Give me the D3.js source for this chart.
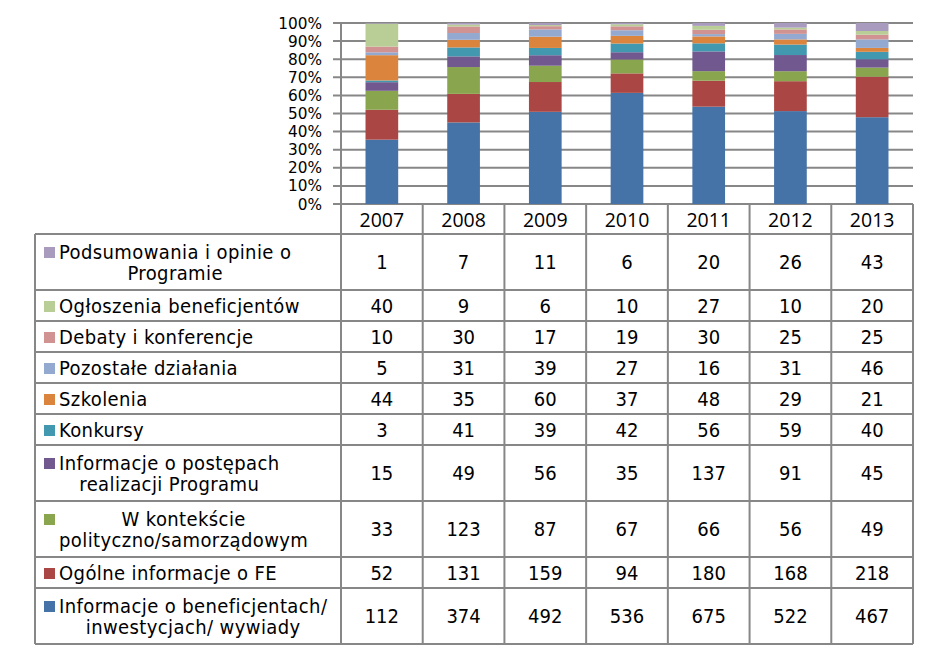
<!DOCTYPE html>
<html><head><meta charset="utf-8">
<script src="https://cdn.jsdelivr.net/npm/d3@7"></script>
<style>body{margin:0;background:#fff}</style>
</head><body><svg id="c" width="937" height="655"></svg>
<script>
const years = ["2007","2008","2009","2010","2011","2012","2013"];
const seriesNames = [
  "Podsumowania i opinie o\nProgramie",
  "Ogłoszenia beneficjentów",
  "Debaty i konferencje",
  "Pozostałe działania",
  "Szkolenia",
  "Konkursy",
  "Informacje o postępach\nrealizacji Programu",
  "W kontekście\npolityczno/samorządowym",
  "Ogólne informacje o FE",
  "Informacje o beneficjentach/\ninwestycjach/ wywiady"
];
const podsumowania = [1,7,11,6,20,26,43];
const ogloszenia   = [40,9,6,10,27,10,20];
const debaty       = [10,30,17,19,30,25,25];
const pozostale    = [5,31,39,27,16,31,46];
const szkolenia    = [44,35,60,37,48,29,21];
const konkursy     = [3,41,39,42,56,59,40];
const postepy      = [15,49,56,35,137,91,45];
const kontekst     = [33,123,87,67,66,56,49];
const ogolne       = [52,131,159,94,180,168,218];
const beneficjenci = [112,374,492,536,675,522,467];
const seriesValues = [podsumowania, ogloszenia, debaty, pozostale, szkolenia, konkursy, postepy, kontekst, ogolne, beneficjenci];
const colors = ["#A99BBD","#B9CD96","#D19392","#93A9CF","#DB843D","#4198AF","#71588F","#89A54E","#AA4643","#4572A7"];
const yTicks = [0,0.1,0.2,0.3,0.4,0.5,0.6,0.7,0.8,0.9,1];

const svg = d3.select("#c");
const plotL = 341, plotR = 913, plotT = 23, plotB = 204, headB = 234, tableL = 35;
const gridColor = "#878787";
const tableFont = "'DejaVu Sans Condensed', 'DejaVu Sans', sans-serif";

const x = d3.scaleBand().domain(years).range([plotL, plotR]);
const y = d3.scaleLinear().domain([0,1]).range([plotB, plotT]);

// stacked data (bottom first)
const rows = years.map((yr,i) => {
  const o = {year: yr};
  seriesValues.forEach((arr,k) => o["s"+k] = arr[i]);
  return o;
});
const keys = seriesValues.map((_,k)=>"s"+k).reverse();
const stacked = d3.stack().keys(keys).offset(d3.stackOffsetExpand)(rows);

// gridlines
svg.append("g").selectAll("line").data(yTicks).join("line")
  .attr("x1", plotL-8).attr("x2", plotR)
  .attr("y1", d=>y(d)).attr("y2", d=>y(d))
  .attr("stroke", gridColor).attr("stroke-width", 2);

// tick labels
svg.append("g").selectAll("text").data(yTicks).join("text")
  .attr("x", 322).attr("y", d=>y(d)).attr("dy","0.36em")
  .attr("text-anchor","end")
  .style("font-family","'DejaVu Sans', sans-serif").style("font-size","15.3px")
  .text(d3.format(".0%"));

// bars
const bw = x.bandwidth()*0.4;
svg.append("g").selectAll("g").data(stacked).join("g")
  .attr("fill", d => colors[+d.key.slice(1)])
  .selectAll("rect").data(d=>d).join("rect")
  .attr("x", d => x(d.data.year) + x.bandwidth()/2 - bw/2)
  .attr("width", bw)
  .attr("y", d => y(d[1]))
  .attr("height", d => y(d[0]) - y(d[1]));

// table layout
const lineH = 21;
const rowInfo = [];
let cur = headB;
seriesNames.forEach((name,k) => {
  const lines = name.split("\n");
  const h = lines.length > 1 ? 56 : 31;
  rowInfo.push({name, lines, k, top: cur, h});
  cur += h;
});
const tableB = cur;

const grid = svg.append("g").attr("stroke", gridColor).attr("stroke-width", 2);
const bounds = years.map(yr => x(yr)).concat([plotR]);
grid.selectAll(".v").data(bounds).join("line")
  .attr("x1", d=>d).attr("x2", d=>d)
  .attr("y1", (d,i)=> i===0 ? plotT : plotB).attr("y2", tableB);
grid.append("line").attr("x1", tableL).attr("x2", tableL).attr("y1", headB).attr("y2", tableB);
const hLines = [headB].concat(rowInfo.map(r=>r.top+r.h));
grid.selectAll(".h").data(hLines).join("line")
  .attr("x1", tableL).attr("x2", plotR)
  .attr("y1", d=>d).attr("y2", d=>d);

// year header
svg.append("g").selectAll("text").data(years).join("text")
  .attr("x", d => x(d) + x.bandwidth()/2).attr("y", 226.5)
  .attr("text-anchor","middle")
  .style("font-family","'Open Sans', sans-serif").style("font-size","19.5px")
  .text(d=>d);

// row labels
const labelX = 59;
rowInfo.forEach(r => {
  const cy = r.top + r.h/2;
  const base1 = cy - (r.lines.length-1)*lineH/2 + 7;
  svg.append("rect").attr("x", 44).attr("y", base1 - 11.5).attr("width", 11).attr("height", 11)
    .attr("fill", colors[r.k]);
  const t = svg.append("text")
    .style("font-family", tableFont).style("font-size","20px").style("letter-spacing","0.4px");
  const spans = r.lines.map((ln,i) => t.append("tspan").attr("y", base1 + i*lineH).text(ln));
  const widths = spans.map(s => s.node().getComputedTextLength());
  const maxW = d3.max(widths);
  spans.forEach((s,i) => s.attr("x", labelX + (maxW - widths[i])/2));
  svg.append("g").selectAll("text").data(seriesValues[r.k]).join("text")
    .attr("x", (d,i) => x(years[i]) + x.bandwidth()/2)
    .attr("y", cy + 7)
    .attr("text-anchor","middle")
    .style("font-family", tableFont).style("font-size","20px")
    .text(d=>d);
});
</script>
</body></html>
